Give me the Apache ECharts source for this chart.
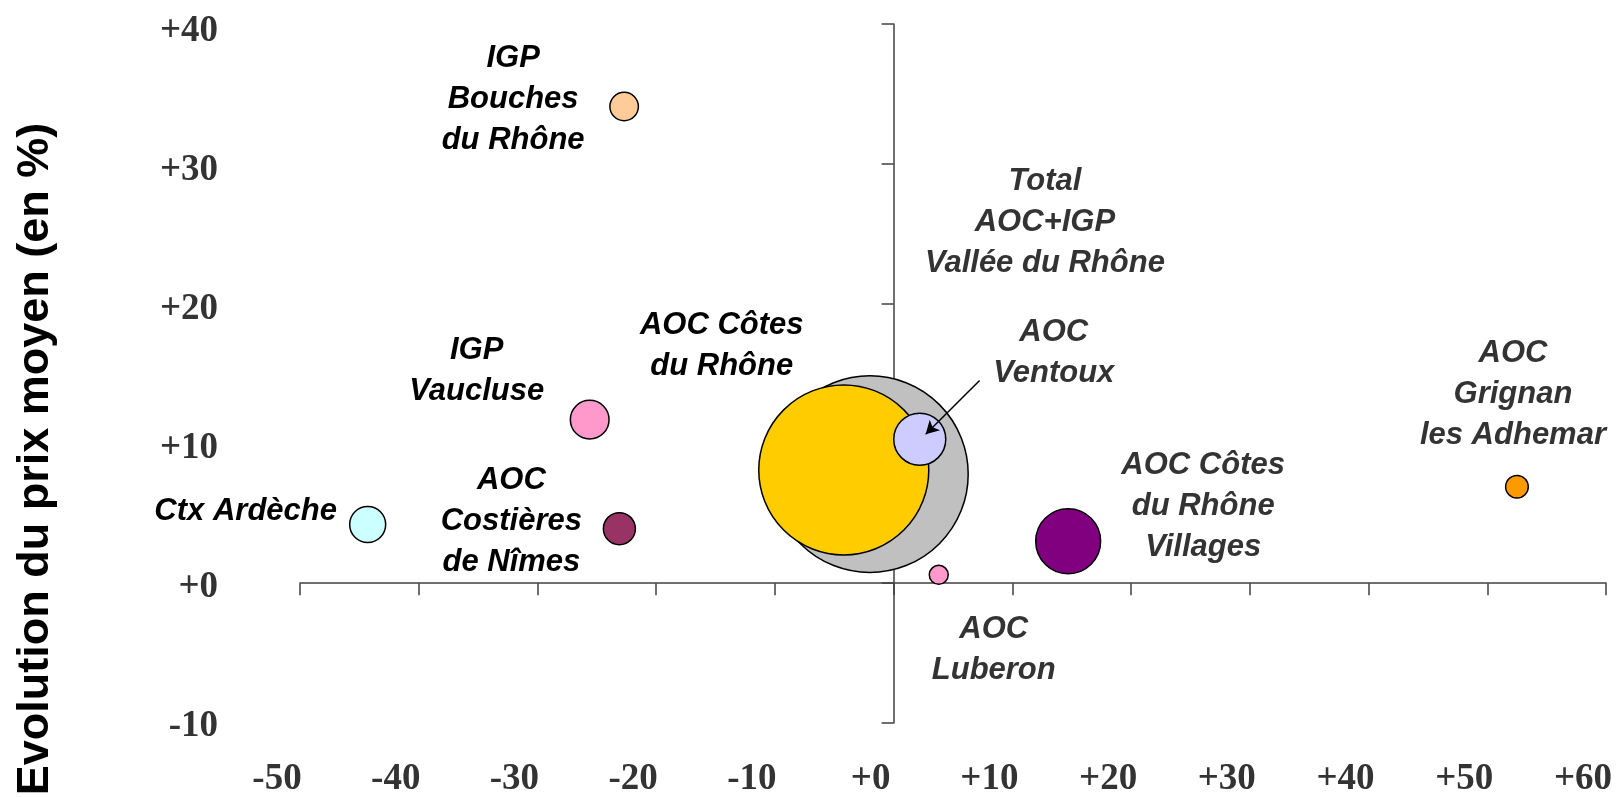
<!DOCTYPE html>
<html>
<head>
<meta charset="utf-8">
<script src="https://cdn.jsdelivr.net/npm/echarts@6/dist/echarts.min.js"></script>
<style>
  html, body { margin: 0; padding: 0; background: #fff; }
  #chart { width: 1623px; height: 798px; }
</style>
</head>
<body>
<div id="chart"></div>
<script>
  // appellations, in drawing order (big ones first so small bubbles stay on top)
  var names = ['Total\nAOC+IGP\nVallée du Rhône', 'AOC Côtes\ndu Rhône', 'AOC\nVentoux', 'Ctx Ardèche',
    'IGP\nBouches\ndu Rhône', 'IGP\nVaucluse', 'AOC\nCostières\nde Nîmes', 'AOC\nLuberon',
    'AOC Côtes\ndu Rhône\nVillages', 'AOC\nGrignan\nles Adhemar']
  // evolution des volumes (%)
  var volEvol = [-2.0, -4.2, 2.2, -44.3, -22.7, -25.6, -23.1, 3.8, 14.7, 52.5]
  // evolution du prix moyen (%)
  var prixEvol = [7.8, 8.1, 10.3, 4.2, 34.1, 11.7, 3.9, 0.6, 3.0, 6.9]
  // poids relatif (taille des bulles, Total = 100)
  var poids = [100, 74.8, 7.0, 3.35, 2.1, 3.87, 2.65, 0.93, 10.9, 1.33]
  var colors = ['#C0C0C0', '#FFCC00', '#CCCCFF', '#CCFFFF', '#FFCC99', '#FF99CC', '#993366', '#FF99CC', '#800080', '#FF9900']
  var labelColors = ['#333', '#000', '#333', '#000', '#000', '#000', '#000', '#333', '#333', '#333']
  // label position relative to its bubble (px)
  var labelOffsets = [[175, -252], [-122, -124], [134, -86], [-122, -13], [-111, -7], [-113, -49], [-108, -7], [55, 75], [135, -35], [-4, -92]]

  var xTickLabels = ['-50', '-40', '-30', '-20', '-10', '+0', '+10', '+20', '+30', '+40', '+50', '+60']
  var yTickLabels = ['-10', '+0', '+10', '+20', '+30', '+40']

  var axisColor = '#404040'
  var tickFont = {fontFamily: 'Liberation Serif', fontWeight: 'bold', fontSize: 37, color: '#333'}

  var data = []
  for (var i = 0; i < names.length; i++) {
    data.push({
      value: [volEvol[i], prixEvol[i], poids[i]],
      itemStyle: {color: colors[i]},
      label: {
        show: true,
        position: 'inside',
        offset: labelOffsets[i],
        formatter: names[i],
        color: labelColors[i]
      }
    })
  }

  var chart = echarts.init(document.getElementById('chart'))
  chart.setOption({
    animation: false,
    grid: [
      {left: 300, width: 1306, top: 24, height: 699},
      // tick labels sit a bit left of / below their ticks, so they get their own grid
      {left: 277, width: 1306, top: 31, height: 699}
    ],
    xAxis: [{
      type: 'value', gridIndex: 0, min: -50, max: 60, interval: 10,
      axisLine: {onZero: true, lineStyle: {color: axisColor, width: 1.5}},
      axisTick: {show: true, length: 12, lineStyle: {color: axisColor, width: 1.5}},
      axisLabel: {show: false},
      splitLine: {show: false}
    }, {
      type: 'value', gridIndex: 1, min: -50, max: 60, interval: 10, position: 'bottom',
      axisLine: {show: false, onZero: false},
      axisTick: {show: false},
      axisLabel: Object.assign({
        margin: 35,
        formatter: function (v) { return xTickLabels[Math.round((v + 50) / 10)] }
      }, tickFont),
      splitLine: {show: false}
    }],
    yAxis: [{
      type: 'value', gridIndex: 0, min: -10, max: 40, interval: 10,
      axisLine: {onZero: true, lineStyle: {color: axisColor, width: 1.5}},
      axisTick: {show: true, length: 12, lineStyle: {color: axisColor, width: 1.5}},
      axisLabel: {show: false},
      splitLine: {show: false}
    }, {
      type: 'value', gridIndex: 1, min: -10, max: 40, interval: 10, position: 'left',
      axisLine: {show: false, onZero: false},
      axisTick: {show: false},
      axisLabel: Object.assign({
        margin: 59,
        formatter: function (v) { return yTickLabels[Math.round((v + 10) / 10)] }
      }, tickFont),
      splitLine: {show: false}
    }],
    graphic: [{
      type: 'text',
      x: 36, y: 459,
      rotation: Math.PI / 2,
      style: {
        text: 'Evolution du prix moyen (en %)',
        fontFamily: 'Liberation Sans', fontWeight: 'bold', fontSize: 45,
        fill: '#000', textAlign: 'center', textVerticalAlign: 'middle'
      }
    }],
    series: [{
      type: 'scatter',
      xAxisIndex: 0, yAxisIndex: 0,
      symbol: 'circle',
      symbolSize: function (val) { return Math.sqrt(val[2] / 100) * 196.6 },
      itemStyle: {borderColor: '#000', borderWidth: 1.5, opacity: 1},
      label: {
        fontFamily: 'Liberation Sans', fontWeight: 'bold', fontStyle: 'italic',
        fontSize: 31, lineHeight: 41, align: 'center', verticalAlign: 'middle'
      },
      emphasis: {disabled: true},
      markLine: {
        silent: true,
        symbol: ['none', 'arrow'],
        symbolSize: [11, 13],
        label: {show: false},
        lineStyle: {color: '#000', width: 1.5, type: 'solid'},
        data: [[{coord: [7.24, 14.5]}, {coord: [2.7, 10.66]}]]
      },
      data: data
    }]
  })
</script>
</body>
</html>
